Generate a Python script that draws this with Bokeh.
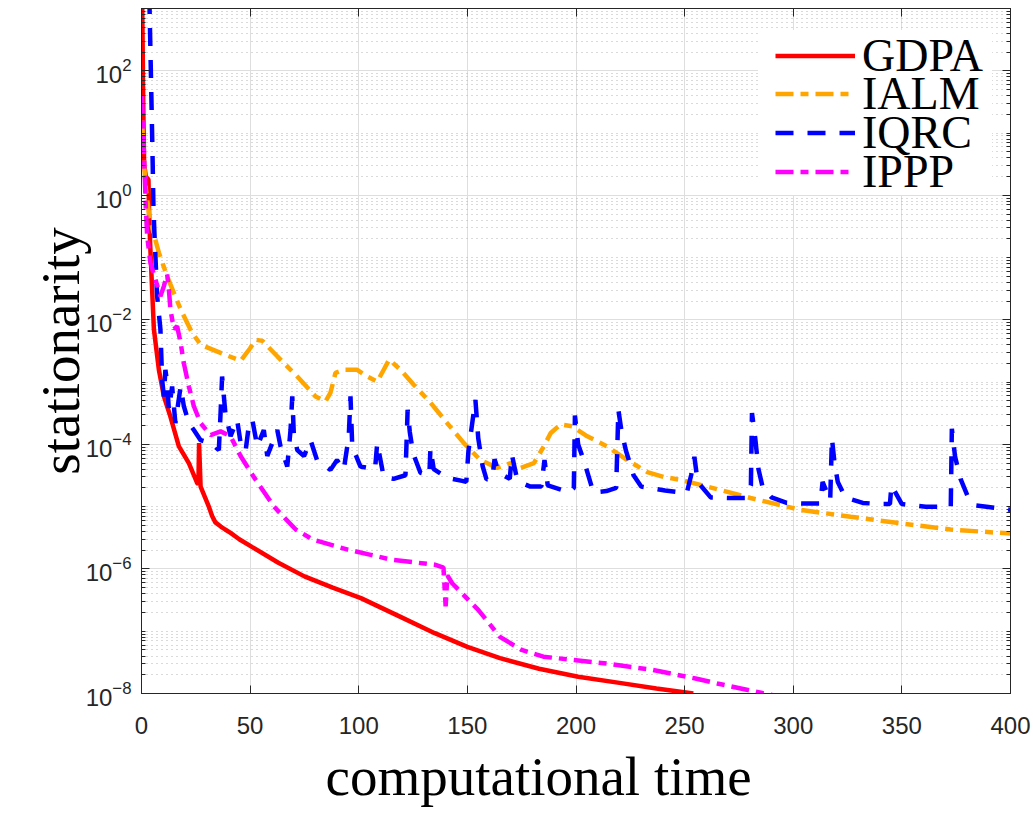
from bokeh.plotting import figure
from bokeh.models import (FixedTicker, LogAxis, LinearAxis, Legend, LegendItem,
                          Range1d, CustomJSTickFormatter, Title)
from bokeh.embed import file_html
from bokeh.resources import INLINE

# ---------------- data ----------------
gdpa_t = [0.3, 0.8, 1.2, 2.0, 3.2, 3.5, 4.0, 5.0, 5.7, 8.0, 10.3, 13.3, 17.2, 21.8,
          25.6, 26.2, 26.5, 27.2, 31.0, 32.5, 34.0, 36.5, 38.5, 41.0, 45.0, 51.0, 63.0,
          75.0, 88.0, 101.0, 118.0, 135.0, 150.0, 165.0, 183.0, 201.0, 220.0, 237.0,
          254.0]
gdpa_v = [1585, 30, 3.2, 2.0, 1.8, 0.5, 0.16, 0.025, 7.1e-3, 1.58e-3, 5.9e-4, 2.8e-4,
          9.3e-5, 5.0e-5, 2.4e-5, 2.3e-5, 1.05e-4, 2.1e-5, 1.0e-5, 7.1e-6, 5.6e-6,
          4.8e-6, 4.3e-6, 3.8e-6, 3.0e-6, 2.24e-6, 1.26e-6, 7.6e-7, 5.0e-7, 3.4e-7,
          1.78e-7, 9.3e-8, 5.6e-8, 3.7e-8, 2.5e-8, 1.86e-8, 1.48e-8, 1.2e-8, 1.0e-8]

ialm_t = [0.3, 1.0, 2.0, 3.5, 5.5, 8.0, 11.8, 18.0, 23.3, 27.2, 36.4, 45.6, 50.0, 52.5,
          55.6, 62.5, 71.7, 80.1, 84.7, 87.0, 89.3, 93.1, 99.3, 103.9, 108.5, 111.5,
          114.0, 119.2, 125.3, 133.0, 140.7, 148.4, 156.0, 163.7, 170.0, 174.5, 180.6,
          185.2, 188.3, 192.9, 198.2, 205.2, 214.3, 223.6, 232.8, 240.4, 248.1, 260.4,
          280.3, 303.3, 326.4, 349.4, 372.4, 400.0]
ialm_v = [15.8, 3.98, 1.26, 0.50, 0.25, 0.12, 0.050, 0.0148, 6.2e-3, 4.0e-3, 2.95e-3,
          2.2e-3, 3.5e-3, 4.8e-3, 4.6e-3, 2.6e-3, 1.23e-3, 5.9e-4, 4.9e-4, 6.8e-4,
          1.41e-3, 1.58e-3, 1.58e-3, 1.23e-3, 1.02e-3, 1.58e-3, 2.3e-3, 1.58e-3,
          9.1e-4, 4.7e-4, 2.2e-4, 1.05e-4, 5.6e-5, 4.2e-5, 5.0e-5, 4.2e-5, 5.0e-5,
          9.3e-5, 1.51e-4, 2.1e-4, 1.95e-4, 1.35e-4, 9.3e-5, 5.6e-5, 3.6e-5, 3.0e-5,
          2.7e-5, 2.1e-5, 1.38e-5, 8.9e-6, 6.9e-6, 5.4e-6, 4.3e-6, 3.7e-6]

iqrc_t = [3.6, 4.3, 5.0, 5.5, 6.0, 7.2, 8.7, 9.5, 10.3, 11.0, 11.8, 12.6, 14.1, 15.6,
          18.0, 19.5, 21.8, 24.1, 27.2, 31.8, 35.6, 36.4, 37.1, 38.6, 41.0, 44.0, 45.6,
          47.9, 49.4, 51.0, 53.3, 56.3, 57.9, 62.5, 64.0, 67.1, 68.6, 69.4, 70.1, 71.7,
          74.8, 77.8, 80.8, 87.0, 90.0, 93.1, 95.4, 96.2, 97.0, 100.8, 107.5, 108.5,
          111.5, 116.0, 121.5, 122.5, 123.5, 125.0, 128.4, 132.5, 133.0, 134.5, 140.7,
          147.6, 149.5, 150.5, 153.7, 155.0, 157.0, 158.8, 161.5, 162.5, 164.5, 169.5,
          170.5, 172.5, 175.0, 179.0, 184.0, 185.5, 187.0, 197.0, 199.0, 199.5, 201.0,
          204.0, 208.0, 214.0, 218.5, 219.5, 221.0, 223.0, 226.5, 230.0, 241.0, 251.0,
          253.0, 254.5, 256.0, 262.0, 270.0, 278.0, 280.5, 281.0, 282.5, 284.0, 286.0,
          290.0, 297.0, 305.0, 312.5, 313.5, 317.0, 317.8, 319.0, 320.5, 324.0, 332.0,
          340.0, 344.5, 345.2, 350.0, 361.0, 369.0, 372.5, 373.0, 374.5, 377.0, 380.5,
          384.0, 389.0, 400.0]
iqrc_v = [1585, 100, 6.3, 0.63, 0.224, 0.024, 7.1e-3, 1.1e-3, 5.9e-4, 1.58e-3, 9.8e-4,
          3.6e-4, 8.5e-4, 2.2e-4, 8.5e-4, 4.1e-4, 2.2e-4, 1.7e-4, 1.17e-4, 1.05e-4,
          8.1e-5, 3.2e-4, 1.23e-3, 3.2e-4, 1.35e-4, 2.5e-4, 1.07e-4, 7.8e-5, 2.0e-4,
          2.5e-4, 9.3e-5, 1.7e-4, 6.5e-5, 1.7e-4, 9.3e-5, 4.4e-5, 1.7e-4, 5.9e-4,
          1.51e-4, 8.1e-5, 6.5e-5, 1.17e-4, 5.6e-5, 3.9e-5, 5.6e-5, 3.9e-5, 1.35e-4,
          5.9e-4, 9.3e-5, 4.4e-5, 4.0e-5, 1.05e-4, 3.0e-5, 2.8e-5, 3.2e-5, 3.6e-4,
          1.58e-4, 7.2e-5, 3.5e-5, 3.2e-5, 8.7e-5, 4.0e-5, 2.9e-5, 2.6e-5, 2.5e-5,
          7.9e-5, 5.2e-4, 1.26e-4, 4.5e-5, 2.75e-5, 2.8e-5, 5.8e-5, 3.5e-5, 2.8e-5,
          6.8e-5, 3.2e-5, 2.4e-5, 2.1e-5, 2.1e-5, 5.6e-5, 2.2e-5, 1.7e-5, 2.0e-5,
          2.9e-4, 1.0e-4, 5.0e-5, 1.7e-5, 1.78e-5, 2.0e-5, 3.6e-4, 1.58e-4, 7.9e-5,
          3.2e-5, 2.1e-5, 1.82e-5, 1.66e-5, 3.2e-5, 6.3e-5, 2.5e-5, 1.41e-5, 1.38e-5,
          1.38e-5, 2.2e-5, 3.2e-4, 1.26e-4, 4.0e-5, 2.0e-5, 1.41e-5, 1.15e-5, 1.12e-5,
          1.12e-5, 2.5e-5, 1.26e-5, 1.26e-4, 5.0e-5, 2.5e-5, 1.41e-5, 1.15e-5, 1.1e-5,
          1.1e-5, 2.2e-5, 1.1e-5, 1.0e-5, 1.0e-5, 1.0e-5, 1.78e-4, 6.3e-5, 2.8e-5,
          1.41e-5, 1.05e-5, 1.0e-5, 8.9e-6]

ippp_t = [0.2, 0.8, 1.5, 2.0, 2.6, 4.1, 6.4, 8.7, 10.3, 11.8, 12.6, 13.3, 14.9, 16.4,
          18.0, 19.5, 21.8, 24.1, 27.2, 31.8, 36.4, 41.0, 45.6, 51.7, 61.0, 71.0, 79.0,
          95.0, 105.0, 115.0, 135.0, 139.0, 140.0, 140.8, 143.0, 155.0, 165.0, 175.0,
          185.0, 215.0, 235.0, 255.0, 265.0, 291.0]
ippp_v = [39.8, 10.0, 2.0, 0.63, 0.224, 0.083, 0.0447, 0.024, 0.0347, 0.0537, 0.031,
          0.0148, 7.1e-3, 7.9e-3, 4.3e-3, 2.0e-3, 8.5e-4, 4.1e-4, 2.2e-4, 1.41e-4,
          1.62e-4, 1.35e-4, 6.5e-5, 3.0e-5, 1.0e-5, 4.3e-6, 2.95e-6, 2.04e-6, 1.7e-6,
          1.41e-6, 1.17e-6, 1.05e-6, 2.5e-7, 7.9e-7, 5.9e-7, 2.2e-7, 8.1e-8, 5.0e-8,
          3.9e-8, 3.0e-8, 2.4e-8, 1.74e-8, 1.45e-8, 9.3e-9]

series_names = ["GDPA", "IALM", "IQRC", "IPPP"]
x_ticks = [0, 50, 100, 150, 200, 250, 300, 350, 400]
y_ticks = [1e-8, 1e-6, 1e-4, 1e-2, 1e0, 1e2]
y_minor = [k * 10.0 ** d for d in range(-8, 3) for k in range(1, 10)
           if k * 10.0 ** d not in y_ticks] + [1e3]

# ---------------- figure ----------------
AX = "#262626"
p = figure(width=1033, height=813, y_axis_type="log",
           x_range=Range1d(0, 400), y_range=Range1d(1e-8, 1e3),
           output_backend="svg", toolbar_location=None,
           min_border_left=141, min_border_right=23, min_border_top=8,
           min_border_bottom=120)
p.background_fill_color = "white"
p.border_fill_color = "white"
p.outline_line_color = AX
p.outline_line_width = 1

xt = FixedTicker(ticks=x_ticks, minor_ticks=[])
yt = FixedTicker(ticks=y_ticks, minor_ticks=y_minor)
p.xaxis.ticker = xt
p.yaxis.ticker = yt

for ax in (p.xaxis[0], p.yaxis[0]):
    ax.axis_line_color = AX
    ax.major_tick_line_color = AX
    ax.minor_tick_line_color = AX
    ax.major_tick_in = 8
    ax.major_tick_out = 0
    ax.minor_tick_in = 4
    ax.minor_tick_out = 0
    ax.major_label_text_font = "Liberation Sans"
    ax.major_label_text_font_size = "24px"
    ax.major_label_text_color = AX
    ax.axis_label_text_font = "Liberation Serif"
    ax.axis_label_text_font_size = "55px"
    ax.axis_label_text_font_style = "normal"
    ax.axis_label_text_color = "black"

p.yaxis.axis_label = "stationarity"
p.xaxis.major_label_standoff = 23
p.yaxis.major_label_standoff = 10
p.yaxis.axis_label_standoff = -8

# x label set slightly left of centre, as in the reference
xlabel = Title(text="computational time", align="left", offset=184,
               text_font="Liberation Serif", text_font_size="55px",
               text_font_style="normal", text_color="black", standoff=14)
p.add_layout(xlabel, "below")

blank = CustomJSTickFormatter(code="return ''")
rax = LogAxis(ticker=yt, formatter=blank, axis_line_color=AX, major_tick_line_color=AX,
              minor_tick_line_color=AX, major_tick_in=8, major_tick_out=0,
              minor_tick_in=4, minor_tick_out=0, major_label_standoff=0,
              major_label_text_font_size="1px")
p.add_layout(rax, "right")
tax = LinearAxis(ticker=xt, formatter=blank, axis_line_color=AX,
                 major_tick_line_color=AX, major_tick_in=8, major_tick_out=0,
                 minor_tick_in=0, minor_tick_out=0, major_label_standoff=0,
                 major_label_text_font_size="1px")
p.add_layout(tax, "above")

p.xgrid.grid_line_color = "#dedede"
p.xgrid.grid_line_width = 1
p.ygrid.grid_line_color = "#dedede"
p.ygrid.grid_line_width = 1
p.ygrid.minor_grid_line_color = "#b4b4b4"
p.ygrid.minor_grid_line_dash = "1 4"
p.ygrid.minor_grid_line_width = 1

lw = 4.5
r1 = p.line(gdpa_t, gdpa_v, line_color="#ff0000", line_width=lw)
r2 = p.line(ialm_t, ialm_v, line_color="#ffa500", line_width=lw, line_dash="18 7 8 7")
r3 = p.line(iqrc_t, iqrc_v, line_color="#0000ff", line_width=lw, line_dash="18 14")
r4 = p.line(ippp_t, ippp_v, line_color="#ff00ff", line_width=lw, line_dash="18 7 8 7")

# white legend panel (an empty, invisible entry that only sizes the box)
ghost = p.line([], [], line_alpha=0)
bg = Legend(items=[LegendItem(label=" ", renderers=[ghost])], location=(617, 498),
            padding=0, margin=0, spacing=0, glyph_width=234, glyph_height=165,
            label_standoff=0, label_width=0, label_height=10,
            label_text_font_size="1px", border_line_color=None,
            background_fill_color="white", background_fill_alpha=1.0)
p.add_layout(bg)

# one entry per legend so the rows can sit as close as in the reference
row_bottoms = [611, 573, 534, 495]
for n, r, vy in zip(series_names, [r1, r2, r3, r4], row_bottoms):
    lg = Legend(items=[LegendItem(label=n, renderers=[r])], location=(634, vy),
                padding=0, margin=0, spacing=0, glyph_width=80, glyph_height=39,
                label_standoff=7, label_text_font="Liberation Serif",
                label_text_font_size="46px", label_text_color="black",
                label_height=39, border_line_color=None,
                background_fill_alpha=0.0)
    p.add_layout(lg)

open("out.html", "w").write(file_html(p, INLINE))
